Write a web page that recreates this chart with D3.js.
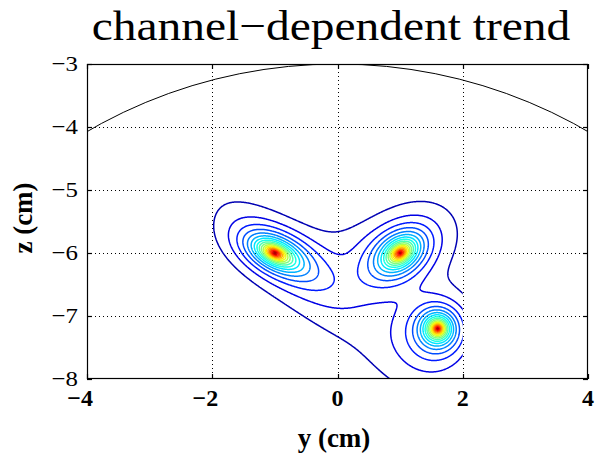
<!DOCTYPE html>
<html>
<head>
<meta charset="utf-8">
<script src="https://cdn.jsdelivr.net/npm/d3@7"></script>
<style>
body { margin: 0; background: #fff; }
text { font-family: "Liberation Serif", "Times New Roman", serif; fill: #000; }
</style>
</head>
<body>
<div id="chart"></div>
<script>
(function()
{
    var width = 599;
    var height = 458;
    var margin = {left: 87, right: 11, top: 64, bottom: 79};

    // axis ranges and ticks (cm)
    var yDomain = [-4, 4];
    var zDomain = [-8, -3];
    var yTicks = [-4, -2, 0, 2, 4];
    var zTicks = [-8, -7, -6, -5, -4, -3];

    // sharp sources: position, orientation (deg), spread along / across
    var peakY = [-1.0, 1.0, 1.6];
    var peakZ = [-6.0, -6.0, -7.2];
    var peakAngle = [-25, 35, 0];
    var peakSpreadU = [0.30, 0.28, 0.19];
    var peakSpreadW = [0.16, 0.19, 0.19];
    var peakAmp = [1, 1, 1];

    // broad halos
    var haloY = [-0.9, 1.2, 1.5, 0.6, 0.1, -0.6, 0.8, 0.1];
    var haloZ = [-6.05, -5.75, -7.4, -7.3, -6.3, -6.2, -6.15, -5.75];
    var haloAngle = [-42, 30, 0, -35, 0, -30, 35, 0];
    var haloSpreadU = [1.0, 0.75, 0.55, 1.3, 0.55, 0.45, 0.45, 0.7];
    var haloSpreadW = [0.35, 0.55, 0.55, 0.55, 0.4, 0.22, 0.3, 0.3];
    var haloAmp = [0.08, 0.045, 0.08, 0.045, 0.03, 0.04, 0.03, 0.02];

    // region where the field was sampled
    var fieldY = [-2, 2];
    var fieldZ = [-8, -4.4];
    var nLevels = 20;

    // head outline
    var headCenter = [0, -11];
    var headRadius = 8;

    var innerW = width - margin.left - margin.right;
    var innerH = height - margin.top - margin.bottom;

    var svg = d3.select("#chart").append("svg")
        .attr("width", width)
        .attr("height", height);

    var x = d3.scaleLinear().domain(yDomain).range([margin.left, margin.left + innerW]);
    var y = d3.scaleLinear().domain(zDomain).range([margin.top + innerH, margin.top]);

    svg.append("clipPath").attr("id", "plotclip")
        .append("rect")
        .attr("x", margin.left).attr("y", margin.top)
        .attr("width", innerW).attr("height", innerH);

    svg.append("clipPath").attr("id", "fieldclip")
        .append("rect")
        .attr("x", x(fieldY[0])).attr("y", y(zDomain[1]))
        .attr("width", x(fieldY[1]) - x(fieldY[0]))
        .attr("height", y(fieldZ[0]) - y(zDomain[1]));

    // grid
    var grid = svg.append("g").attr("stroke", "#000").attr("stroke-width", 1)
        .attr("stroke-dasharray", "1,3");
    grid.selectAll(".gx").data(yTicks.slice(1, -1)).enter().append("line")
        .attr("x1", function(d){return Math.round(x(d)) + 0.5;})
        .attr("x2", function(d){return Math.round(x(d)) + 0.5;})
        .attr("y1", margin.top).attr("y2", margin.top + innerH);
    grid.selectAll(".gz").data(zTicks.slice(1, -1)).enter().append("line")
        .attr("y1", function(d){return Math.round(y(d)) + 0.5;})
        .attr("y2", function(d){return Math.round(y(d)) + 0.5;})
        .attr("x1", margin.left).attr("x2", margin.left + innerW);

    // field
    function field(py, pz) {
        var v = 0, i, dy, dz, a, u, w;
        for (i = 0; i < peakY.length; i++) {
            dy = py - peakY[i]; dz = pz - peakZ[i]; a = peakAngle[i] * Math.PI / 180;
            u = (dy * Math.cos(a) + dz * Math.sin(a)) / peakSpreadU[i];
            w = (-dy * Math.sin(a) + dz * Math.cos(a)) / peakSpreadW[i];
            v += peakAmp[i] * Math.exp(-Math.sqrt(u * u + w * w));
        }
        for (i = 0; i < haloY.length; i++) {
            dy = py - haloY[i]; dz = pz - haloZ[i]; a = haloAngle[i] * Math.PI / 180;
            u = (dy * Math.cos(a) + dz * Math.sin(a)) / haloSpreadU[i];
            w = (-dy * Math.sin(a) + dz * Math.cos(a)) / haloSpreadW[i];
            v += haloAmp[i] * Math.exp(-(u * u + w * w) / 2);
        }
        return v;
    }

    var step = 0.01;
    var pad = 0.2;
    var gy0 = fieldY[0] - pad, gz1 = fieldZ[1];
    var nx = Math.round((fieldY[1] + pad - gy0) / step) + 1;
    var nz = Math.round((gz1 - (fieldZ[0] - pad)) / step) + 1;
    var values = new Float64Array(nx * nz);
    var vmax = 0;
    for (var j = 0; j < nz; j++) {
        for (var i = 0; i < nx; i++) {
            var v = field(gy0 + i * step, gz1 - j * step);
            values[j * nx + i] = v;
            if (v > vmax) vmax = v;
        }
    }

    var levels = d3.range(1, nLevels).map(function(k){return k * vmax / nLevels;});

    function jet(t) {
        function c(v){return Math.max(0, Math.min(1, v));}
        var r = c(1.5 - Math.abs(4 * t - 3));
        var g = c(1.5 - Math.abs(4 * t - 2));
        var b = c(1.5 - Math.abs(4 * t - 1));
        return d3.rgb(r * 255, g * 255, b * 255).toString();
    }
    var color = d3.scaleLinear().domain([0, vmax]).range([0, 1]);

    var contours = d3.contours().size([nx, nz]).thresholds(levels)(values);

    function ringPath(ring) {
        return "M" + ring.map(function(p){
            return x(gy0 + (p[0] - 0.5) * step).toFixed(2) + "," +
                   y(gz1 - (p[1] - 0.5) * step).toFixed(2);
        }).join("L") + "Z";
    }

    svg.append("g").attr("clip-path", "url(#fieldclip)")
        .selectAll("path").data(contours).enter().append("path")
        .attr("fill", "none")
        .attr("stroke", function(d){return jet(color(d.value));})
        .attr("stroke-width", 1.5)
        .attr("d", function(d){
            return d.coordinates.map(function(poly){
                return poly.map(ringPath).join("");
            }).join("");
        });

    // head outline
    svg.append("g").attr("clip-path", "url(#plotclip)")
        .append("ellipse")
        .attr("cx", x(headCenter[0])).attr("cy", y(headCenter[1]))
        .attr("rx", x(headCenter[0] + headRadius) - x(headCenter[0]))
        .attr("ry", y(headCenter[1]) - y(headCenter[1] + headRadius))
        .attr("fill", "none").attr("stroke", "#000").attr("stroke-width", 1);

    // box and ticks
    svg.append("rect")
        .attr("x", margin.left + 0.5).attr("y", margin.top + 0.5)
        .attr("width", innerW - 1).attr("height", innerH - 1)
        .attr("fill", "none").attr("stroke", "#000").attr("stroke-width", 1.2);

    var tickLen = 5;
    var ticks = svg.append("g").attr("stroke", "#000").attr("stroke-width", 1.2);
    yTicks.forEach(function(t){
        var px = Math.round(x(t)) + 0.5;
        ticks.append("line").attr("x1", px).attr("x2", px)
            .attr("y1", margin.top + innerH).attr("y2", margin.top + innerH - tickLen);
        ticks.append("line").attr("x1", px).attr("x2", px)
            .attr("y1", margin.top).attr("y2", margin.top + tickLen);
    });
    zTicks.forEach(function(t){
        var py = Math.round(y(t)) + 0.5;
        ticks.append("line").attr("y1", py).attr("y2", py)
            .attr("x1", margin.left).attr("x2", margin.left + tickLen);
        ticks.append("line").attr("y1", py).attr("y2", py)
            .attr("x1", margin.left + innerW).attr("x2", margin.left + innerW - tickLen);
    });

    function label(d){return d < 0 ? "\u2212" + Math.abs(d) : String(d);}

    svg.append("g").selectAll("text").data(zTicks).enter().append("text")
        .attr("text-anchor", "end")
        .attr("font-size", 22)
        .attr("transform", function(d){return "translate(78," + (y(d) + 7) + ") scale(1.13,1)";})
        .text(label);

    svg.append("g").selectAll("text").data(yTicks).enter().append("text")
        .attr("text-anchor", function(d){return d < 0 ? "end" : "middle";})
        .attr("font-size", 24)
        .attr("font-weight", "bold")
        .attr("transform", function(d){return "translate(" + (x(d) + (d < 0 ? 6 : 0)) + ",406)";})
        .text(label);

    svg.append("text")
        .attr("text-anchor", "middle")
        .attr("font-size", 42)
        .attr("transform", "translate(331,40) scale(1.13,1)")
        .text("channel\u2212dependent trend");

    svg.append("text")
        .attr("text-anchor", "middle")
        .attr("font-size", 27)
        .attr("font-weight", "bold")
        .attr("transform", "translate(334,447)")
        .text("y (cm)");

    svg.append("text")
        .attr("text-anchor", "middle")
        .attr("font-size", 27)
        .attr("font-weight", "bold")
        .attr("transform", "translate(32,218) rotate(-90)")
        .text("z (cm)");

})();
</script>
</body>
</html>
